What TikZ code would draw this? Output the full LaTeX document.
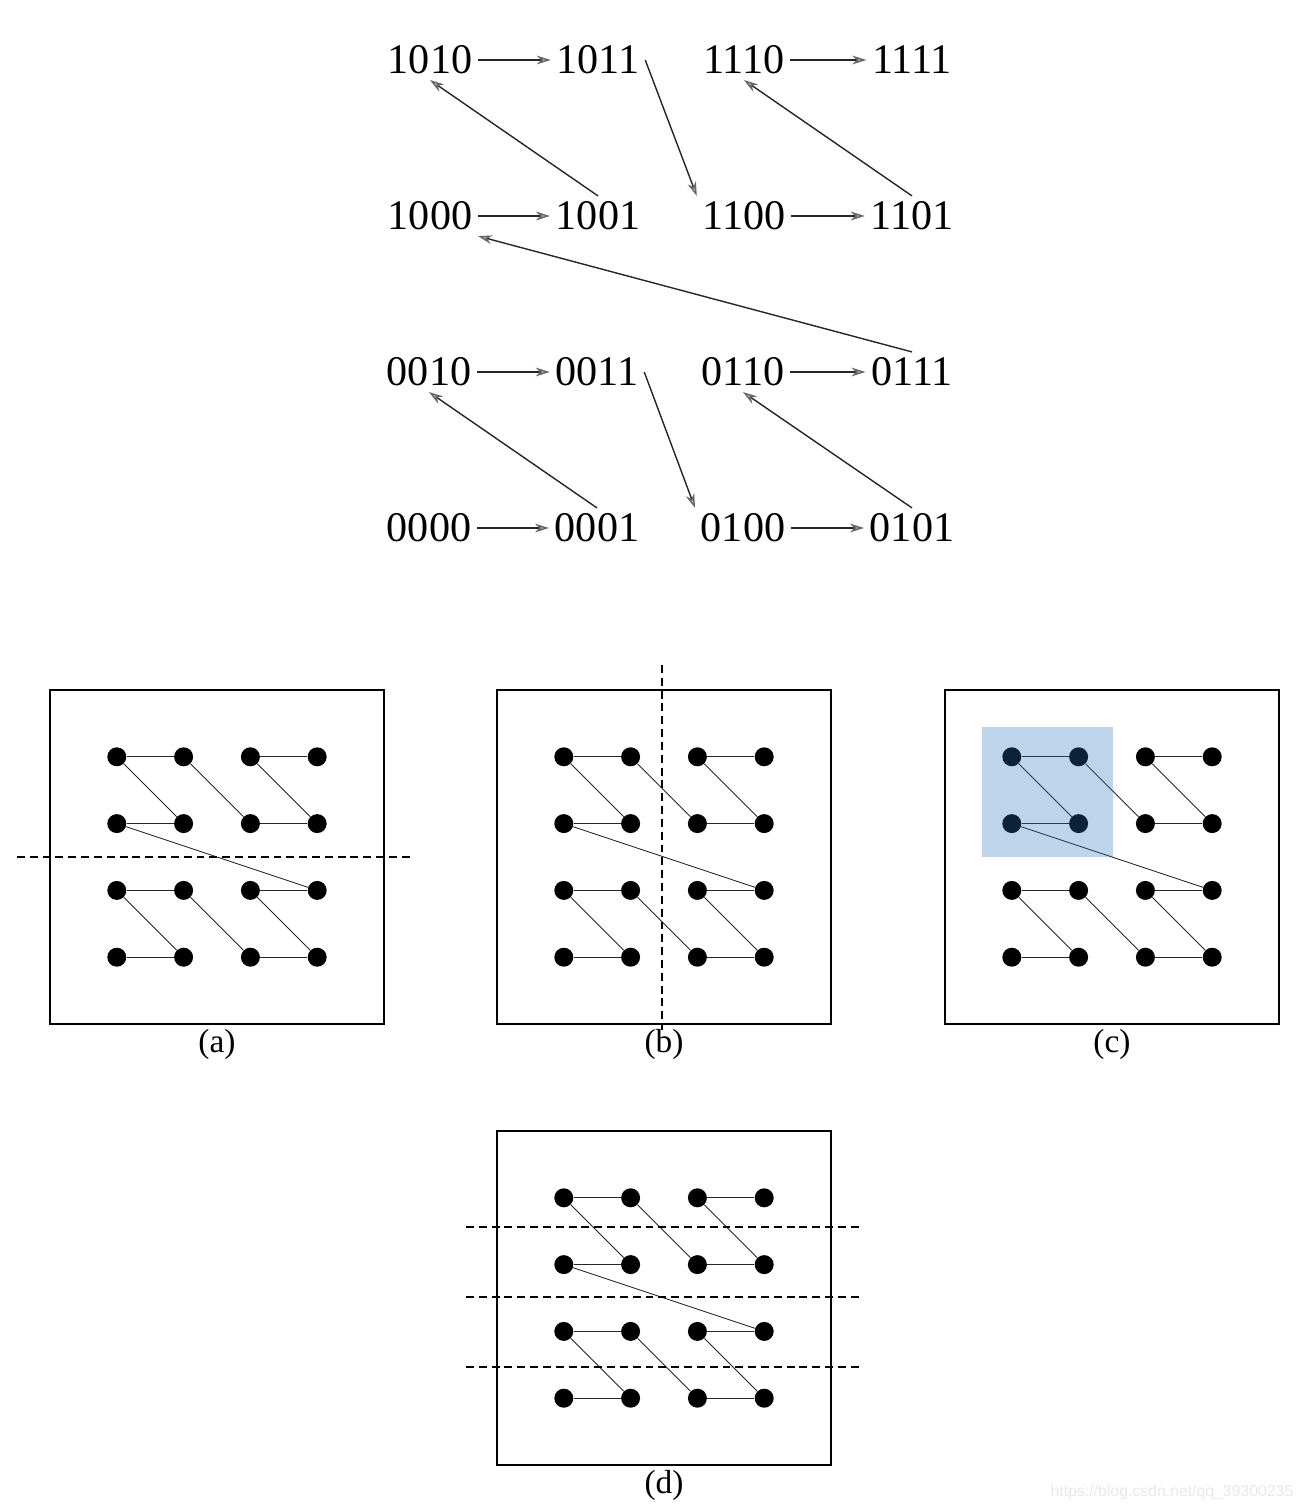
\documentclass[tikz,border=0pt]{standalone}
\usepackage{fontspec}
\setmainfont{Liberation Serif}
\newfontfamily\wmfont{Liberation Sans}
\usetikzlibrary{arrows.meta}
\definecolor{zblue}{RGB}{40,113,187}
\tikzset{
code/.style={font=\fontsize{24}{29}\selectfont, inner sep=0.11cm},
flow/.style={draw=black!85, line width=0.8pt,
    -{Stealth[length=8pt, width=5pt, inset=2.5pt, color=black!60, fill=gray!55]}},
dot/.style={circle, fill=black, inner sep=0pt, minimum size=0.38cm},
link/.style={black!85, line width=0.5pt},
frame/.style={line width=1.1pt},
cut/.style={line width=1pt, dash pattern=on 4.5pt off 2.8pt},
hilite/.style={fill=zblue, fill opacity=0.3},
caption/.style={font=\fontsize{19}{23}\selectfont},
watermark/.style={font=\wmfont\fontsize{9}{11}\selectfont, text=black!9}
}
% one panel: box, 16 points in z-order, caption
\newcommand{\zpanel}[3]{%
  \draw[frame] (#2,#3) rectangle ++(334,334);
  \foreach \k in {0,...,15}{
    \pgfmathtruncatemacro\zc{2*mod(int(\k/4),2)+mod(\k,2)}
    \pgfmathtruncatemacro\zr{2*int(\k/8)+mod(int(\k/2),2)}
    \node[dot] (#1\k) at ({#2+66.8*(\zc+1)},{#3+66.8*(4-\zr)}) {};
  }
  \foreach \k in {1,...,15}{
    \pgfmathtruncatemacro\zp{\k-1}
    \draw[link] (#1\zp) -- (#1\k);
  }
  \node[caption] (#1cap) at (#2+167,#3+354) {(#1)};
}

\begin{document}
\begin{tikzpicture}[x=0.02cm, y=-0.02cm]
\useasboundingbox (0,0) rectangle (1304,1510);

% the codes
\node[code] (n1010) at (430,60) {1010};
\node[code] (n1011) at (598,60) {1011};
\node[code] (n1110) at (744,60) {1110};
\node[code] (n1111) at (912,60) {1111};
\node[code] (n1000) at (430,216) {1000};
\node[code] (n1001) at (598,216) {1001};
\node[code] (n1100) at (744,216) {1100};
\node[code] (n1101) at (912,216) {1101};
\node[code] (n0010) at (429,372) {0010};
\node[code] (n0011) at (597,372) {0011};
\node[code] (n0110) at (743,372) {0110};
\node[code] (n0111) at (912,372) {0111};
\node[code] (n0000) at (429,528) {0000};
\node[code] (n0001) at (597,528) {0001};
\node[code] (n0100) at (743,528) {0100};
\node[code] (n0101) at (912,528) {0101};

\draw[flow] (n0000) -- (n0001);
\draw[flow] (n0001.north) -- (n0010.south);
\draw[flow] (n0010) -- (n0011);
\draw[flow] (n0011.east) -- (n0100.north west);
\draw[flow] (n0100) -- (n0101);
\draw[flow] (n0101.north) -- (n0110.south);
\draw[flow] (n0110) -- (n0111);
\draw[flow] (n0111.north) -- (n1000.south east);
\draw[flow] (n1000) -- (n1001);
\draw[flow] (n1001.north) -- (n1010.south);
\draw[flow] (n1010) -- (n1011);
\draw[flow] (n1011.east) -- (n1100.north west);
\draw[flow] (n1100) -- (n1101);
\draw[flow] (n1101.north) -- (n1110.south);
\draw[flow] (n1110) -- (n1111);

% the panels
\zpanel{a}{50}{690}
\draw[cut] (17,857) -- (410,857);

\zpanel{b}{497}{690}
\draw[cut] (662,665) -- (662,1030);

\zpanel{c}{945}{690}
\fill[hilite] (982,727) rectangle (1113,857);

\zpanel{d}{497}{1131}
\foreach \yy in {1227,1297,1367}
  \draw[cut] (466,\yy) -- (860,\yy);

\node[watermark] (wm) at (1172,1492) {https://blog.csdn.net/qq\_39300235};
\end{tikzpicture}
\end{document}
